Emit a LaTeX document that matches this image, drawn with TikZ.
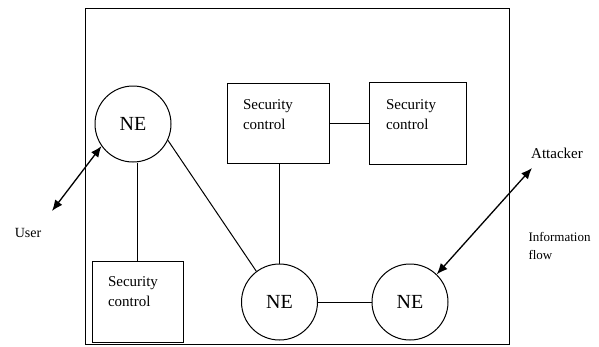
\documentclass[tikz,border=0pt]{standalone}
\usepackage{fontspec}
\setmainfont{Liberation Serif}
\usetikzlibrary{arrows.meta, positioning}

\begin{document}
\begin{tikzpicture}[x=1pt, y=-1pt, line width=1pt,
    ne/.style={circle, draw, minimum size=76pt, inner sep=0pt, font=\fontsize{20}{22}\selectfont},
    scbox/.style={rectangle, draw, inner sep=0pt},
    sctext/.style={anchor=north west, align=left, inner sep=0pt, font=\fontsize{15}{20}\selectfont},
    lbl/.style={inner sep=0pt, align=left},
    flow/.style={{Latex[length=11pt,width=9pt]}-{Latex[length=11pt,width=9pt]}, line width=1.3pt}]
  \useasboundingbox (0,0) rectangle (599,346);
  \draw (85,344.5) rectangle (509,8);

  % network elements
  \node[ne] (ne1) at (133,124) {NE};
  \node[ne] (ne2) at (279.5,302) {NE};
  \node[ne] (ne3) at (410,302) {NE};

  % security controls
  \node[scbox, minimum width=91pt, minimum height=81pt] (sc1) at (137.5,301.5) {};
  \node[scbox, minimum width=102pt, minimum height=80pt] (sc2) at (278,123.5) {};
  \node[scbox, minimum width=97pt, minimum height=82pt] (sc3) at (417.5,123.5) {};
  \node[sctext] (t1) at ([shift={(16,16)}]sc1.north west) {Security\\control};
  \node[sctext] (t2) at ([shift={(16,16)}]sc2.north west) {Security\\control};
  \node[sctext] (t3) at ([shift={(17,17)}]sc3.north west) {Security\\control};

  \draw (sc1.north) -- (sc1.north |- ne1.south);
  \draw (ne1.335) -- (ne2.127);
  \draw (sc2.south -| ne2.north) -- (ne2.north);
  \draw (sc2.east) -- (sc3.west);
  \draw (ne2) -- (ne3);

  % outside
  \node[lbl, font=\fontsize{14}{16}\selectfont] (user) at (28,233) {User};
  \node[lbl, font=\fontsize{15}{17}\selectfont] (attacker) at (557,153) {Attacker};
  \node[lbl, anchor=north west, font=\fontsize{13}{18}\selectfont] (info) at (528,232) {Information\\flow};
  \coordinate (usr) at (52,211);
  \coordinate (atk) at (532,168);
  \draw[flow] (usr) -- (ne1.215);
  \draw[flow] (atk) -- (ne3.46);
\end{tikzpicture}
\end{document}
